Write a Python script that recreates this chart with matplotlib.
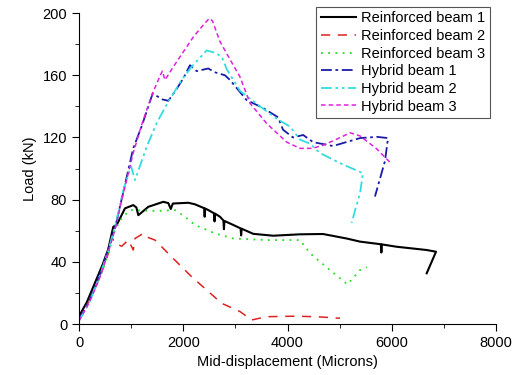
import matplotlib
matplotlib.use("Agg")
import matplotlib.pyplot as plt
from matplotlib.ticker import MultipleLocator

plt.rcParams['font.family'] = ['Liberation Sans', 'DejaVu Sans']

# Reinforced beam 1 (with the small unloading spikes seen on the trace)
rb1_x = [0, 150, 300, 450, 560, 658, 723, 882, 1041, 1100, 1138, 1330, 1617, 1713, 1760, 1800,
         2097, 2225, 2400, 2410, 2420, 2480, 2590, 2600, 2610, 2704, 2770, 2780, 2790, 2960,
         3100, 3110, 3120, 3343, 3727, 4240, 4680, 5134, 5390, 5790, 5800, 5810, 6093,
         6669, 6848, 6669]
rb1_y = [5, 14, 26, 38, 48, 62.6, 63.7, 74.4, 76.5, 75, 70, 75.4, 78.6, 77.8, 74, 77.5,
         78, 77, 74.5, 69, 74.3, 73.3, 71.2, 66, 71, 69, 66.6, 61, 66.3, 63.7,
         61.5, 57, 61.3, 58, 56.8, 57.7, 57.9, 55, 53, 51.3, 46, 51.2, 49.7,
         47.6, 46.5, 32.6]

# Reinforced beam 2
rb2_x = [0, 200, 400, 560, 627, 690, 819, 946, 1041, 1074, 1234, 1298, 1458, 1841, 2161,
         2737, 3088, 3312, 3600, 4110, 4559, 5006]
rb2_y = [3, 15, 30, 45, 56, 52, 50, 54, 47.6, 55, 58.3, 56, 54, 41, 30.4,
         13.3, 8, 2.6, 4.7, 5, 4.7, 3.7]

# Reinforced beam 3
rb3_x = [0, 200, 400, 560, 690, 819, 978, 1106, 1202, 1522, 1841, 2033, 2225, 2608, 2960,
         3600, 4240, 4431, 4814, 5150, 5390, 5520]
rb3_y = [3, 15, 30, 45, 60.5, 68, 73.3, 73.3, 73, 72.7, 73.3, 69, 63.7, 58.3, 55,
         54, 54, 45.5, 34.7, 25.5, 34.7, 36.5]

# Hybrid beam 1
hb1_x = [0, 200, 400, 560, 700, 850, 1040, 1200, 1413, 1598, 1713, 1850, 2000, 2129, 2257,
         2480, 2600, 2800, 2896, 3216, 3530, 3817, 3913, 4105, 4300, 4490, 4872, 5064, 5390,
         5715, 5927, 5870, 5677]
hb1_y = [3, 15, 32, 48, 63, 85, 113, 127, 148.3, 144.5, 143.6, 150, 158, 166.5, 162.7,
         164.4, 162, 160, 157, 144, 139, 133, 125, 120, 121.6, 117, 114.5, 116.4, 119.6,
         120.4, 119.6, 105, 82]

# Hybrid beam 2
hb2_x = [0, 200, 400, 560, 700, 850, 997, 1074, 1298, 1500, 1713, 1970, 2161, 2449, 2608,
         2737, 2833, 3088, 3472, 3792, 4047, 4240, 4431, 4622, 5006, 5447, 5390, 5294, 5230]
hb2_y = [2, 14, 31, 47, 64, 86, 101.6, 92.6, 114, 130, 143, 157, 165.5, 176, 174.5,
         172, 164, 150, 140, 132, 127, 118.6, 116, 110, 103.5, 97, 84, 73, 65]

# Hybrid beam 3
hb3_x = [0, 200, 400, 560, 700, 850, 1040, 1200, 1413, 1560, 1598, 1650, 1800, 2000, 2200,
         2400, 2500, 2560, 2700, 2900, 3088, 3280, 3600, 3984, 4240, 4480, 4680, 4950, 5200,
         5390, 5700, 5965]
hb3_y = [2, 14, 30, 46, 62, 84, 110, 128, 148.7, 160, 162.7, 157, 165, 175, 185,
         193, 196.6, 195, 182, 170, 159, 142, 129, 117, 113, 113, 115, 119, 123,
         121, 113, 104]

fig = plt.figure(figsize=(5.13, 3.75), dpi=100)
ax = fig.add_axes([0.154, 0.136, 0.813, 0.829])

ax.plot(rb1_x, rb1_y, color='black', lw=1.5, label='Reinforced beam 1')
ax.plot(rb2_x, rb2_y, color='#dd2222', lw=1.1, dashes=(6, 5), label='Reinforced beam 2')
ax.plot(rb3_x, rb3_y, color='#22dd22', lw=1.3, dashes=(1, 3), label='Reinforced beam 3')
ax.plot(hb1_x, hb1_y, color='#1a1aa8', lw=1.3, dashes=(6, 2, 1.5, 2), label='Hybrid beam 1')
ax.plot(hb2_x, hb2_y, color='#33dddd', lw=1.3, dashes=(6, 2, 1.5, 2, 1.5, 2), label='Hybrid beam 2')
ax.plot(hb3_x, hb3_y, color='#dd22dd', lw=1.1, dashes=(3, 2), label='Hybrid beam 3')

ax.set_xlim(0, 8000)
ax.set_ylim(0, 200)
ax.xaxis.set_major_locator(MultipleLocator(2000))
ax.xaxis.set_minor_locator(MultipleLocator(1000))
ax.yaxis.set_major_locator(MultipleLocator(40))
ax.yaxis.set_minor_locator(MultipleLocator(20))
ax.spines['top'].set_visible(False)
ax.spines['right'].set_visible(False)
ax.tick_params(which='major', length=5, labelsize=10.5)
ax.tick_params(which='minor', length=3)

ax.set_xlabel('Mid-displacement (Microns)', fontsize=10.5)
ax.set_ylabel('Load (kN)', fontsize=10.5)

leg = ax.legend(loc='upper right', bbox_to_anchor=(490 / 513, 1 - 7 / 375),
                bbox_transform=fig.transFigure, fontsize=10.5, fancybox=False,
                edgecolor='#555555', framealpha=1, borderaxespad=0,
                handlelength=2.4, handletextpad=0.4, labelspacing=0.25,
                borderpad=0.3)
leg.get_frame().set_linewidth(0.8)

fig.savefig('out.png', dpi=100)
